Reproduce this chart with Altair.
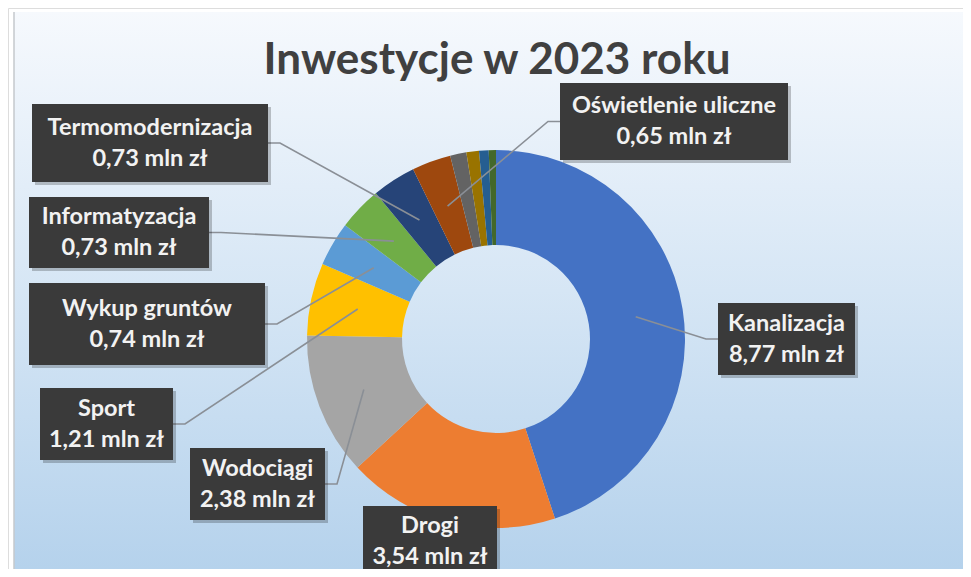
import altair as alt
import pandas as pd
import numpy as np

# ---- data ----
categories = ["Kanalizacja", "Drogi", "Wodociągi", "Sport", "Wykup gruntów",
              "Informatyzacja", "Termomodernizacja", "Oświetlenie uliczne",
              "Pozostałe 1", "Pozostałe 2", "Pozostałe 3", "Pozostałe 4"]
values = [8.77, 3.54, 2.38, 1.21, 0.74, 0.73, 0.73, 0.65, 0.27, 0.21, 0.16, 0.12]
labeled = [True, True, True, True, True, True, True, True, False, False, False, False]
colors = ["#4472C4", "#ED7D31", "#A5A5A5", "#FFC000", "#5B9BD5", "#70AD47",
          "#264478", "#9E480E", "#636363", "#997300", "#255E91", "#43682B"]
title_text = "Inwestycje w 2023 roku"

# ---- layout (pixels, chart coordinates) ----
W, H = 955, 561
CX, CY = 488, 331
R_OUT, R_IN = 189, 94
LINE_H = 31
# label boxes: x, x2, y, y2, text centre y, leader side ('r' = right edge, 'l' = left, None = no leader)
boxes = {
    "Kanalizacja": (710, 847, 295, 367, 331, "l"),
    "Drogi": (355, 489, 498, 575, 533, None),
    "Wodociągi": (182, 317, 440, 512, 476, "r"),
    "Sport": (32, 165, 380, 452, 416, "r"),
    "Wykup gruntów": (21, 257, 275, 357, 316, "r"),
    "Informatyzacja": (21, 201, 189, 260, 224.5, "r"),
    "Termomodernizacja": (24, 260, 96, 174, 135, "r"),
    "Oświetlenie uliczne": (552, 780, 75, 152, 113.5, "l"),
}

df = pd.DataFrame({"cat": categories, "val": values, "order": range(len(values))})
total = sum(values)
cum = np.cumsum([0] + values)
mid_angle = {c: (cum[i] + cum[i + 1]) / 2 / total * 2 * np.pi for i, c in enumerate(categories)}

rect_rows, text_rows, line_rows = [], [], []
r_mid = (R_OUT + R_IN) / 2
for c, v, lab in zip(categories, values, labeled):
    if not lab:
        continue
    x1, x2, y1, y2, tc, side = boxes[c]
    rect_rows.append({"cat": c, "x": x1, "x2": x2, "y": y1, "y2": y2})
    val_txt = f"{v:.2f}".replace(".", ",")
    text_rows.append({"cat": c, "x": (x1 + x2) / 2, "y": tc - LINE_H / 2,
                      "t": f"{c}\n{val_txt} mln zł"})
    if side:
        a = mid_angle[c]
        tx, ty = CX + r_mid * np.sin(a), CY - r_mid * np.cos(a)
        ay = (y1 + y2) / 2
        if side == "r":
            ax, kx = x2, x2 + 12
        else:
            ax, kx = x1, x1 - 12
        line_rows += [{"cat": c, "x": ax, "y": ay, "o": 0},
                      {"cat": c, "x": kx, "y": ay, "o": 1},
                      {"cat": c, "x": tx, "y": ty, "o": 2}]

rects = pd.DataFrame(rect_rows)
texts = pd.DataFrame(text_rows)
lines = pd.DataFrame(line_rows)
shadow = rects.assign(x=rects.x + 3, x2=rects.x2 + 3, y=rects.y + 3, y2=rects.y2 + 3)

xs = alt.Scale(domain=[0, W], nice=False, zero=False)
ys = alt.Scale(domain=[0, H], nice=False, zero=False, reverse=True)

bg = alt.Chart(pd.DataFrame({"x": [6], "x2": [957], "y": [4], "y2": [H]})).mark_rect(
    fill=alt.LinearGradient(gradient="linear",
                            stops=[alt.GradientStop(color="#f6f9fd", offset=0),
                                   alt.GradientStop(color="#d6e6f5", offset=0.5),
                                   alt.GradientStop(color="#b5d2ec", offset=1)],
                            x1=0, x2=0, y1=0, y2=1)
).encode(x=alt.X("x:Q", scale=xs, axis=None), x2="x2", y=alt.Y("y:Q", scale=ys, axis=None), y2="y2")

edge = alt.Chart(pd.DataFrame({"x": [6], "y": [4], "y2": [H]})).mark_rule(
    color="#c4c8cc", strokeWidth=1.5
).encode(x=alt.X("x:Q", scale=xs, axis=None), y=alt.Y("y:Q", scale=ys, axis=None), y2="y2")

donut = alt.Chart(df).mark_arc(innerRadius=R_IN, outerRadius=R_OUT).encode(
    theta=alt.Theta("val:Q", stack=True),
    order=alt.Order("order:Q"),
    color=alt.Color("cat:N", scale=alt.Scale(domain=categories, range=colors), legend=None),
    x=alt.value(CX), y=alt.value(CY),
)

leader = alt.Chart(lines).mark_line(color="#8a8f96", strokeWidth=1.6).encode(
    x=alt.X("x:Q", scale=xs, axis=None), y=alt.Y("y:Q", scale=ys, axis=None),
    detail="cat:N", order="o:Q")

shadows = alt.Chart(shadow).mark_rect(fill="#000000", opacity=0.22).encode(
    x=alt.X("x:Q", scale=xs, axis=None), x2="x2", y=alt.Y("y:Q", scale=ys, axis=None), y2="y2")

boxes_l = alt.Chart(rects).mark_rect(fill="#3a3a3a").encode(
    x=alt.X("x:Q", scale=xs, axis=None), x2="x2", y=alt.Y("y:Q", scale=ys, axis=None), y2="y2")

labels = alt.Chart(texts).mark_text(
    font="Lato", fontWeight="bold", fontSize=23.5, color="#f2f2f2",
    align="center", baseline="middle", lineHeight=LINE_H, lineBreak="\n"
).encode(x=alt.X("x:Q", scale=xs, axis=None), y=alt.Y("y:Q", scale=ys, axis=None), text="t:N")

title = alt.Chart(pd.DataFrame({"x": [489], "y": [66], "t": [title_text]})).mark_text(
    font="Lato", fontWeight="bold", fontSize=44, color="#404040",
    align="center", baseline="alphabetic"
).encode(x=alt.X("x:Q", scale=xs, axis=None), y=alt.Y("y:Q", scale=ys, axis=None), text="t:N")

chart = alt.layer(bg, edge, donut, leader, shadows, boxes_l, labels, title).properties(
    width=W, height=H, padding=0, autosize=alt.AutoSizeParams(type="none")
).configure_view(stroke=None).configure(background="#ffffff")

chart.save("out.html", embed_options={"renderer": "svg", "actions": False})
